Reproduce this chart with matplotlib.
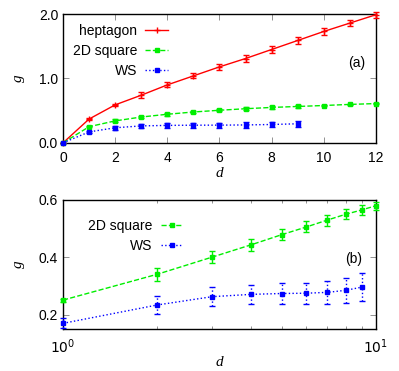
import numpy as np
import matplotlib
matplotlib.use("Agg")
import matplotlib.pyplot as plt
from matplotlib.lines import Line2D
from matplotlib.ticker import LogLocator, NullFormatter, FixedLocator

plt.rcParams['font.family'] = ['Liberation Sans', 'DejaVu Sans']
plt.rcParams['font.size'] = 10

# data
d_hep = np.arange(0, 13)
g_hep = [0.0, 0.37, 0.59, 0.74, 0.90, 1.04, 1.18, 1.31, 1.45, 1.59, 1.73, 1.86, 1.99]
e_hep = [0.0, 0.02, 0.02, 0.05, 0.04, 0.04, 0.05, 0.05, 0.05, 0.05, 0.05, 0.05, 0.05]

d_sq = np.arange(0, 13)
g_sq = [0.0, 0.251, 0.341, 0.401, 0.444, 0.479, 0.506, 0.530, 0.550, 0.565, 0.580, 0.597, 0.610]
e_sq = [0.0, 0.005, 0.022, 0.022, 0.021, 0.020, 0.019, 0.019, 0.018, 0.018, 0.014, 0.014, 0.014]

d_ws = np.arange(0, 10)
g_ws = [0.0, 0.170, 0.234, 0.263, 0.271, 0.274, 0.275, 0.278, 0.285, 0.296]
e_ws = [0.0, 0.017, 0.031, 0.033, 0.034, 0.037, 0.037, 0.041, 0.043, 0.048]

red = '#ff0000'
green = '#00ee00'
blue = '#0000ff'


def err_plot(ax, x, y, e, color, ls, marker, ms):
    pts = ax.errorbar(x, y, yerr=e, color=color, ls=ls, lw=1.0, marker=marker,
                      ms=ms, mew=1.0, capsize=2, elinewidth=1.0,
                      clip_on=False, zorder=3)
    for bl in pts[2]:
        bl.set_linestyle(ls)
    return Line2D([], [], color=color, ls=ls, lw=1.0, marker=marker, ms=ms, mew=1.0)


def style_axes(ax):
    ax.tick_params(which='both', direction='in', top=True, right=True,
                   length=4, width=0.5, color='#666666')
    ax.tick_params(which='minor', length=2.5)
    ax.tick_params(axis='x', pad=6)
    for s in ax.spines.values():
        s.set_linewidth(1.0)


fig = plt.figure(figsize=(3.99, 3.71), dpi=100)

# (a)
ax1 = fig.add_axes([0.158, 0.615, 0.784, 0.347])
h1 = err_plot(ax1, d_hep, g_hep, e_hep, red, '-', '+', 4)
h2 = err_plot(ax1, d_sq, g_sq, e_sq, green, '--', 's', 3)
h3 = err_plot(ax1, d_ws, g_ws, e_ws, blue, ':', 's', 3)
ax1.set_xlim(0, 12)
ax1.set_ylim(0, 2.0)
ax1.set_xticks(range(0, 13, 2))
ax1.set_yticks([0.0, 1.0, 2.0])
ax1.set_yticklabels(['0.0', '1.0', '2.0'])
style_axes(ax1)
ax1.set_xlabel('d', fontstyle='italic', family='Liberation Serif', fontsize=11, labelpad=1)
ax1.set_ylabel('g', fontstyle='italic', family='Liberation Serif', fontsize=11, labelpad=10)
ax1.legend([h1, h2, h3], ['heptagon', '2D square', 'WS'], loc='upper left',
           markerfirst=False, frameon=False, handlelength=1.6,
           handletextpad=0.6, labelspacing=0.45, borderaxespad=0.3,
           bbox_to_anchor=(0.0, 1.0))
ax1.text(0.94, 0.62, '(a)', transform=ax1.transAxes, ha='center', va='center')

# (b)
ax2 = fig.add_axes([0.158, 0.113, 0.784, 0.348])
k1 = err_plot(ax2, d_sq[1:11], g_sq[1:11], e_sq[1:11], green, '--', 's', 3)
k2 = err_plot(ax2, d_ws[1:], g_ws[1:], e_ws[1:], blue, ':', 's', 3)
ax2.set_xscale('log')
ax2.set_xlim(1, 10)
ax2.set_ylim(0.15, 0.6)
ax2.xaxis.set_major_locator(FixedLocator([1, 10]))
ax2.set_xticklabels(['$10^{0}$', '$10^{1}$'])
ax2.xaxis.set_minor_locator(LogLocator(base=10, subs=np.arange(2, 10)))
ax2.xaxis.set_minor_formatter(NullFormatter())
ax2.set_yticks([0.2, 0.4, 0.6])
ax2.set_yticklabels(['0.2', '0.4', '0.6'])
style_axes(ax2)
ax2.set_xlabel('d', fontstyle='italic', family='Liberation Serif', fontsize=11, labelpad=0)
ax2.set_ylabel('g', fontstyle='italic', family='Liberation Serif', fontsize=11, labelpad=10)
ax2.legend([k1, k2], ['2D square', 'WS'], loc='upper left', markerfirst=False,
           frameon=False, handlelength=1.6, handletextpad=0.6, labelspacing=0.45,
           bbox_to_anchor=(0.04, 0.95))
ax2.text(0.93, 0.54, '(b)', transform=ax2.transAxes, ha='center', va='center')

fig.savefig('out.png', dpi=100)
